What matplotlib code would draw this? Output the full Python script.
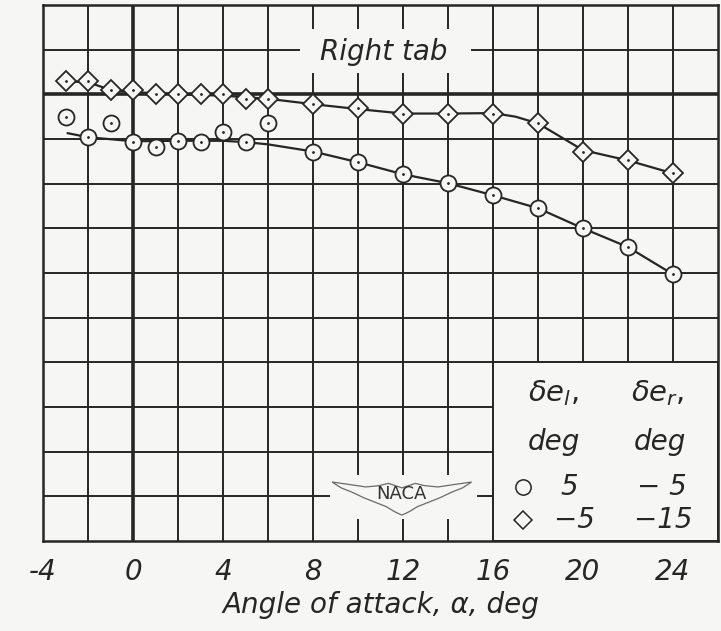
import numpy as np
import matplotlib.pyplot as plt
from matplotlib.patches import Rectangle, Polygon

# angle of attack, deg
alpha_circ = [-3, -2, -1, 0, 1, 2, 3, 4, 5, 6, 8, 10, 12, 14, 16, 18, 20, 22, 24]
val_circ = [-0.51, -0.96, -0.65, -1.07, -1.19, -1.05, -1.07, -0.85, -1.07, -0.65,
            -1.28, -1.52, -1.79, -1.99, -2.26, -2.55, -3.0, -3.42, -4.03]
alpha_diam = [-3, -2, -1, 0, 1, 2, 3, 4, 5, 6, 8, 10, 12, 14, 16, 18, 20, 22, 24]
val_diam = [0.29, 0.29, 0.09, 0.09, 0.0, 0.0, 0.0, 0.0, -0.11, -0.11,
            -0.22, -0.31, -0.43, -0.43, -0.43, -0.65, -1.28, -1.48, -1.77]

# faired curves
fair_circ_x = [-2.9, -2, 0, 2, 4, 5, 6, 8, 10, 12, 14, 16, 18, 20, 22, 24]
fair_circ_y = [-0.87, -0.96, -1.05, -1.04, -1.04, -1.07, -1.12, -1.28, -1.52, -1.79,
               -1.99, -2.26, -2.55, -3.0, -3.42, -4.03]
fair_diam_x = [-3, -2, -1, 0, 2, 4, 6, 8, 10, 12, 14, 16, 17, 18, 20, 22, 24]
fair_diam_y = [0.29, 0.27, 0.1, 0.05, 0.0, -0.03, -0.1, -0.22, -0.33, -0.43, -0.43,
               -0.42, -0.5, -0.65, -1.25, -1.48, -1.77]

xticks = [-4, 0, 4, 8, 12, 16, 20, 24]
xtick_labels = ['-4', '0', '4', '8', '12', '16', '20', '24']

bg = '#f6f6f4'
ink = '#262626'
fs = 20

fig = plt.figure(figsize=(7.21, 6.31), dpi=100, facecolor=bg)
ax = fig.add_axes([43 / 721, 1 - 541 / 631, 675 / 721, 536 / 631], facecolor=bg)
ax.set_xlim(-4, 26)
ax.set_ylim(-10, 2)

# grid
for x in np.arange(-2, 26, 2):
    ax.axvline(x, color=ink, lw=1.4, zorder=0.5)
for y in np.arange(-9, 2, 1):
    ax.axhline(y, color=ink, lw=1.4, zorder=0.5)
ax.axvline(0, color=ink, lw=2.6, zorder=0.6)
ax.axhline(0, color=ink, lw=2.6, zorder=0.6)
for s in ax.spines.values():
    s.set_color(ink)
    s.set_linewidth(1.8)

# blank areas for title, logo and key
ax.add_patch(Rectangle((7.4, 0.47), 7.6, 1.0, facecolor=bg, edgecolor='none', zorder=1))
ax.add_patch(Rectangle((8.75, -9.5), 6.55, 0.98, facecolor=bg, edgecolor='none', zorder=1))
ax.add_patch(Rectangle((16, -10), 10, 4, facecolor=bg, edgecolor=ink, lw=1.4, zorder=1))

ax.text(11.15, 0.95, 'Right tab', fontsize=fs, style='italic', color=ink,
        ha='center', va='center', zorder=2)

# curves
ax.plot(fair_circ_x, fair_circ_y, color=ink, lw=1.6, zorder=2)
ax.plot(fair_diam_x, fair_diam_y, color=ink, lw=1.6, zorder=2)
ax.plot(alpha_circ, val_circ, ls='none', marker='o', ms=11.5, mfc=bg, mec=ink, mew=1.3, zorder=3)
ax.plot(alpha_diam, val_diam, ls='none', marker='D', ms=10, mfc=bg, mec=ink, mew=1.3, zorder=3)
ax.plot(alpha_circ + alpha_diam, val_circ + val_diam, ls='none', marker='.', ms=2, color=ink, zorder=4)

# key
ax.text(18.7, -6.69, r'$\delta e_{l}$,', fontsize=fs + 1, color=ink, ha='center', va='center', zorder=2)
ax.text(23.3, -6.69, r'$\delta e_{r}$,', fontsize=fs + 1, color=ink, ha='center', va='center', zorder=2)
ax.text(18.7, -7.79, 'deg', fontsize=fs, style='italic', color=ink, ha='center', va='center', zorder=2)
ax.text(23.4, -7.79, 'deg', fontsize=fs, style='italic', color=ink, ha='center', va='center', zorder=2)
ax.plot([17.35], [-8.79], marker='o', ms=11, mfc=bg, mec=ink, mew=1.1, zorder=3)
ax.plot([17.35], [-9.53], marker='D', ms=9.5, mfc=bg, mec=ink, mew=1.1, zorder=3)
ax.text(19.4, -8.79, '5', fontsize=fs, style='italic', color=ink, ha='center', va='center', zorder=2)
ax.text(23.5, -8.79, '\u2212 5', fontsize=fs, style='italic', color=ink, ha='center', va='center', zorder=2)
ax.text(19.6, -9.53, '\u22125', fontsize=fs, style='italic', color=ink, ha='center', va='center', zorder=2)
ax.text(23.55, -9.53, '\u221215', fontsize=fs, style='italic', color=ink, ha='center', va='center', zorder=2)

# NACA wings
cx, cy = 11.95, -8.93
wing = [(-3.1, 0.25), (-2.4, 0.2), (-1.6, 0.14), (-1.0, 0.17), (-0.6, 0.22), (0, 0.12),
        (0.6, 0.22), (1.0, 0.17), (1.6, 0.14), (2.4, 0.2), (3.1, 0.25),
        (2.7, 0.12), (2.2, 0.02), (1.7, -0.1), (1.2, -0.2), (0.7, -0.3), (0.3, -0.42),
        (0, -0.49), (-0.3, -0.42), (-0.7, -0.3), (-1.2, -0.2), (-1.7, -0.1),
        (-2.2, 0.02), (-2.7, 0.12)]
ax.add_patch(Polygon([(cx + dx, cy + dy) for dx, dy in wing], closed=True,
                     facecolor=bg, edgecolor='#6a6a6a', lw=0.9, zorder=2))
ax.text(cx, cy - 0.02, 'NACA', fontsize=13, color='#333333', ha='center', va='center', zorder=3)

ax.set_xticks(xticks)
ax.set_xticklabels(xtick_labels, fontsize=fs, style='italic', color=ink)
ax.set_yticks([])
ax.tick_params(axis='x', length=0, pad=12)
ax.set_xlabel('Angle of attack, \u03b1, deg', fontsize=fs, style='italic', color=ink, labelpad=4)

fig.savefig('out.png', dpi=100, facecolor=bg)
